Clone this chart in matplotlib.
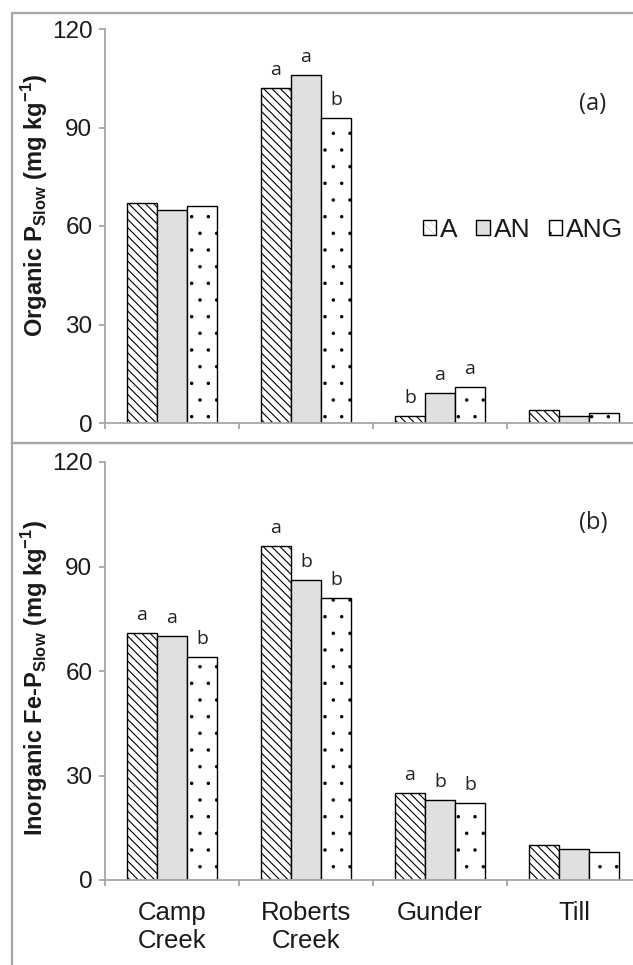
import matplotlib
matplotlib.use("Agg")
import matplotlib.pyplot as plt
import numpy as np
from matplotlib.patches import Rectangle

plt.rcParams['font.family'] = ['Liberation Sans', 'DejaVu Sans']
plt.rcParams['mathtext.fontset'] = 'custom'
plt.rcParams['mathtext.rm'] = 'Liberation Sans'
plt.rcParams['mathtext.bf'] = 'Liberation Sans:bold'

# data
sites = ["Camp\nCreek", "Roberts\nCreek", "Gunder", "Till"]
treatments = ["A", "AN", "ANG"]

organic_A = [67, 102, 2, 4]
organic_AN = [65, 106, 9, 2]
organic_ANG = [66, 93, 11, 3]
organic_letters = [["", "", ""], ["a", "a", "b"], ["b", "a", "a"], ["", "", ""]]

fe_A = [71, 96, 25, 10]
fe_AN = [70, 86, 23, 9]
fe_ANG = [64, 81, 22, 8]
fe_letters = [["a", "a", "b"], ["a", "b", "b"], ["a", "b", "b"], ["", "", ""]]

yticks = [0, 30, 60, 90, 120]

styles = [
    dict(facecolor="white", hatch="\\\\\\\\"),
    dict(facecolor="#e0e0e0", hatch=None),
    dict(facecolor="white", hatch="."),
]
hatch_widths = [0.8, 1.0, 0.1]

GRAY = "#a6a6a6"
W, H = 633, 965

fig = plt.figure(figsize=(W / 100, H / 100), dpi=100)

# panel frames
fig.patches.append(Rectangle((12 / W, 1 - 443 / H), 2, 430 / H, transform=fig.transFigure,
                             fill=False, edgecolor=GRAY, linewidth=1.6))
fig.patches.append(Rectangle((12 / W, -0.5), 2, 0.5 + 1 - 443 / H, transform=fig.transFigure,
                             fill=False, edgecolor=GRAY, linewidth=1.6))

ax1 = fig.add_axes([105 / W, 1 - 423 / H, 536 / W, 394 / H])
ax2 = fig.add_axes([105 / W, 1 - 880 / H, 536 / W, 418 / H])


def draw_panel(ax, series, letters, ylabel, tag, label_y):
    x = np.arange(len(sites)) + 0.5
    bw = 0.224
    for i, vals in enumerate(series):
        plt.rcParams['hatch.linewidth'] = hatch_widths[i]
        bars = ax.bar(x + (i - 1) * bw, vals, bw, edgecolor="black", linewidth=1.0,
                      label=treatments[i], **styles[i])
        for p in bars:
            if hasattr(p, "set_hatch_linewidth"):
                p.set_hatch_linewidth(hatch_widths[i])
        for j, v in enumerate(vals):
            if letters[j][i]:
                ax.annotate(letters[j][i], (x[j] + (i - 1) * bw, v), xytext=(0, 13),
                            textcoords="offset points", ha="center", va="center",
                            fontsize=14, family=["Open Sans", "DejaVu Sans"], color="#222222")
    ax.set_xlim(0, 4)
    ax.set_ylim(0, 120)
    ax.set_yticks(yticks)
    ax.set_xticks(range(5))
    ax.set_xticklabels([])
    for s in ["top", "right"]:
        ax.spines[s].set_visible(False)
    for s in ["left", "bottom"]:
        ax.spines[s].set_color(GRAY)
        ax.spines[s].set_linewidth(1.3)
    ax.tick_params(axis="both", which="major", direction="out", length=4, width=1.3,
                   color=GRAY, labelsize=17.5, labelcolor="#1a1a1a", pad=5)
    ax.set_ylabel(ylabel, fontsize=17, fontweight="bold", color="#1a1a1a")
    ax.yaxis.set_label_coords(-0.102, label_y)
    ax.text(0.91, tag[1], tag[0], transform=ax.transAxes, ha="center", va="center",
            fontsize=17, family=["Open Sans", "DejaVu Sans"], color="#222222")


draw_panel(ax1, [organic_A, organic_AN, organic_ANG], organic_letters,
           r"Organic P$_{\mathbf{Slow}}$ (mg kg$^{\mathbf{-1}}$)", ("(a)", 0.810), 0.553)
draw_panel(ax2, [fe_A, fe_AN, fe_ANG], fe_letters,
           r"Inorganic Fe-P$_{\mathbf{Slow}}$ (mg kg$^{\mathbf{-1}}$)", ("(b)", 0.855), 0.483)

ax1.legend(loc="center", bbox_to_anchor=(0.78, 0.49), ncol=3, frameon=False, fontsize=19,
           handlelength=0.5, handleheight=0.5, handletextpad=0.15, columnspacing=0.7,
           labelcolor="#1a1a1a")

ax2.set_xticks(np.arange(len(sites)) + 0.5, minor=True)
ax2.set_xticklabels(sites, minor=True, fontsize=18.5, color="#1a1a1a")
ax2.tick_params(axis="x", which="minor", length=0, pad=15)

fig.savefig("out.png", dpi=100)
